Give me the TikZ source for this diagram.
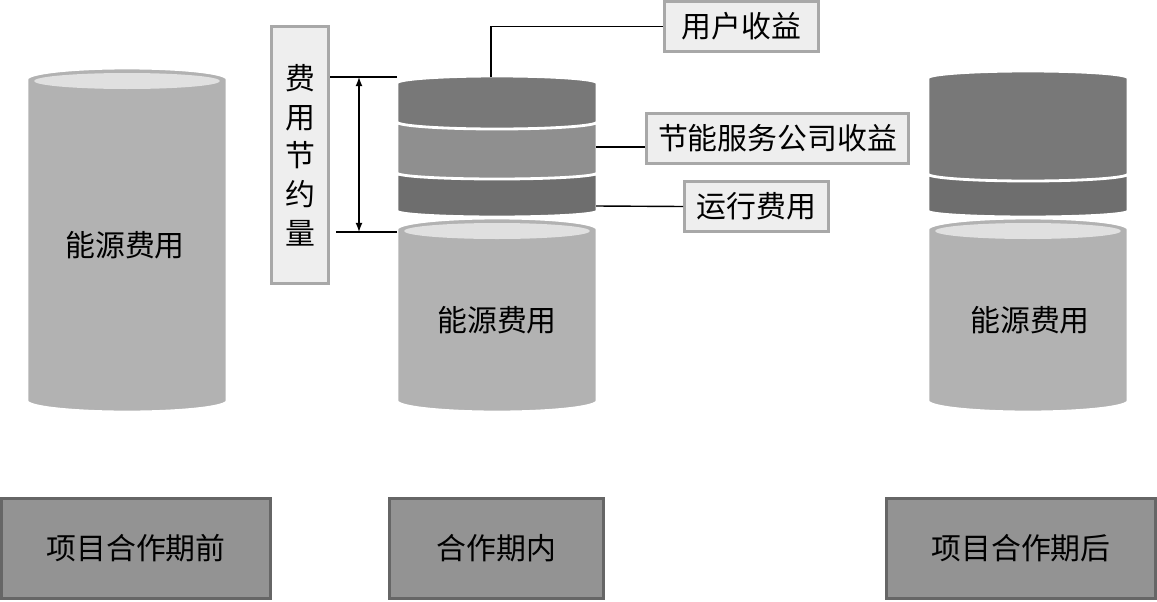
\documentclass[tikz,border=0pt]{standalone}
\usepackage{fontspec}
\newfontfamily\cjk{Noto Sans CJK SC}
\usepackage{tikz}
\usetikzlibrary{arrows.meta, positioning, calc, }
\definecolor{corenergia}{HTML}{B2B2B2}
\definecolor{cortampa}{HTML}{E0E0E0}
\definecolor{corusuario}{HTML}{787878}
\definecolor{corempresa}{HTML}{8F8F8F}
\definecolor{coroperacao}{HTML}{6E6E6E}
\definecolor{corcaixa}{HTML}{EEEEEE}
\definecolor{bordacaixa}{HTML}{A8A8A8}
\definecolor{corperiodo}{HTML}{939393}
\definecolor{bordaperiodo}{HTML}{666666}
\newcommand{\disco}[5]{%
  % #1 = x centro, #2 = y topo, #3 = y base, #4 = raio vertical, #5 = cor
  \fill[#5, draw=white, line width=1.6pt]
    (#1-100,-#2) -- (#1-100,-#3)
    arc[start angle=180, end angle=360, x radius=100, y radius=#4] --
    (#1+100,-#2)
    arc[start angle=0, end angle=180, x radius=100, y radius=#4] --
    cycle;
}
\newcommand{\tambor}[3]{%
  % #1 = x centro, #2 = y topo, #3 = y base
  \disco{#1}{#2}{#3}{11}{corenergia}
  \fill[cortampa] (#1,-#2-2) ellipse[x radius=93, y radius=8];
}
\tikzset{
  texto/.style={font=\cjk\fontsize{17}{22}\selectfont},
  caixa/.style={texto, draw=bordacaixa, fill=corcaixa, line width=1.7pt,
    inner sep=0pt, minimum height=1.0cm},
  periodo/.style={texto, draw=bordaperiodo, fill=corperiodo, line width=1.7pt,
    inner sep=0pt, minimum height=2.0cm},
}

\begin{document}
\begin{tikzpicture}[x=0.02cm, y=0.02cm, >=latex]

    \useasboundingbox (0,0) rectangle (1157,-602);

    % antes
    \tambor{127}{79}{401}
    \node[texto] (energiaA) at (125,-245) {能源费用};

    % durante
    \tambor{497}{229}{401}
    \disco{497}{175}{211}{6}{coroperacao}
    \disco{497}{124}{173}{6}{corempresa}
    \disco{497}{83}{122}{7}{corusuario}
    \node[texto] (energiaB) at (497,-320) {能源费用};

    % depois
    \tambor{1028}{229}{401}
    \disco{1028}{176}{211}{6}{coroperacao}
    \disco{1028}{78}{174}{7}{corusuario}
    \node[texto] (energiaC) at (1030,-320) {能源费用};

    \node[caixa, minimum width=1.14cm, minimum height=5.14cm, align=center]
      (economia) at (300,-155) {费\\用\\节\\约\\量};
    \node[caixa, minimum width=3.08cm] (usuario) at (741.5,-26.5) {用户收益};
    \node[caixa, minimum width=5.24cm] (empresa) at (777.5,-138.5) {节能服务公司收益};
    \node[caixa, minimum width=2.88cm] (operacao) at (756.5,-206.5) {运行费用};

    \coordinate (econtopo) at (397,-77);
    \coordinate (econbase) at (397,-232);
    \coordinate (topousuario) at (491,-77);
    \coordinate (ladoempresa) at (596,-147);
    \coordinate (ladooperacao) at (596,-206);

    \draw[line width=0.8pt] (econtopo) -- (econtopo -| economia.east);
    \draw[line width=0.8pt] (econbase) -- ++(-61,0);
    \draw[line width=0.8pt, <->] ($(econtopo)+(-38,0)$) -- ($(econbase)+(-38,0)$);

    \draw[line width=0.8pt] (topousuario) |- (usuario.west);
    \draw[line width=0.8pt] (ladoempresa) -- (ladoempresa -| empresa.west);
    \draw[line width=0.8pt] (ladooperacao) -- (operacao.west);

    \node[periodo, minimum width=5.38cm] (antes) at (136,-548.5) {项目合作期前};
    \node[periodo, minimum width=4.28cm] (durante) at (496.5,-548.5) {合作期内};
    \node[periodo, minimum width=5.38cm] (depois) at (1021,-548.5) {项目合作期后};

\end{tikzpicture}
\end{document}
